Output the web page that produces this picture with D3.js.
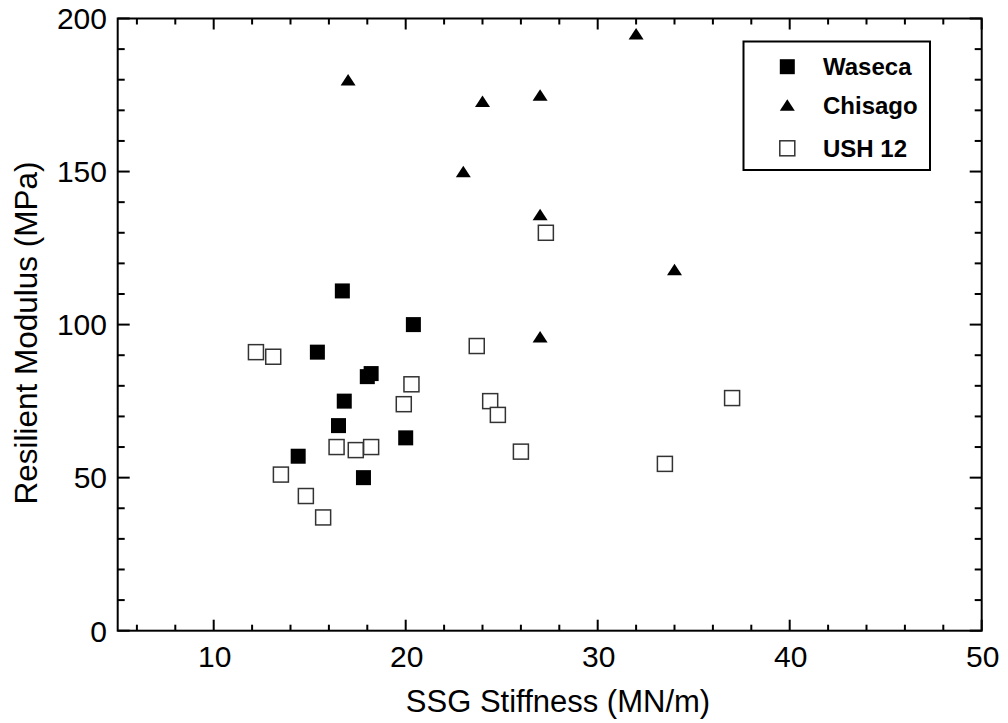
<!DOCTYPE html>
<html>
<head>
<meta charset="utf-8">
<script src="https://cdn.jsdelivr.net/npm/d3@7"></script>
<style>
  html, body { margin: 0; padding: 0; background: #fff; }
  svg { display: block; font-family: "Liberation Sans", Arial, sans-serif; }
</style>
</head>
<body>
<svg id="chart" width="1008" height="723"></svg>
<script>
// SSG stiffness (MN/m) vs resilient modulus (MPa) for three sites
const wasecaX = [16.7, 20.4, 15.4, 18.0, 18.2, 16.8, 16.5, 20.0, 14.4, 17.8];
const wasecaY = [111, 100, 91, 83, 84, 75, 67, 63, 57, 50];

const chisagoX = [17, 32, 24, 27, 23, 27, 34, 27];
const chisagoY = [180, 195, 173, 175, 150, 136, 118, 96];

const ushX = [12.2, 13.1, 20.3, 19.9, 16.4, 17.4, 18.2, 13.5, 14.8, 15.7, 27.3, 23.7, 24.4, 24.8, 26.0, 37.0, 33.5];
const ushY = [91, 89.5, 80.5, 74, 60, 59, 60, 51, 44, 37, 130, 93, 75, 70.5, 58.5, 76, 54.5];

const seriesNames = ["Waseca", "Chisago", "USH 12"];

const xTicks = [10, 20, 30, 40, 50];
const yTicks = [0, 50, 100, 150, 200];

(function draw() {
  const svg = d3.select("#chart");
  const pL = 117.7, pR = 981.7, pT = 18.5, pB = 630.7;

  const x = d3.scaleLinear().domain([5, 50]).range([pL, pR]);
  const y = d3.scaleLinear().domain([0, 200]).range([pB, pT]);

  const majorX = 11, minorX = 6, majorY = 12, minorY = 7;
  const xMinor = d3.range(6, 50, 2).filter(v => v % 10 !== 0);
  const yMinor = d3.range(10, 200, 10).filter(v => v % 50 !== 0);

  const axes = svg.append("g").attr("stroke", "#000").attr("stroke-width", 2);

  // frame
  axes.append("rect")
    .attr("x", pL).attr("y", pT)
    .attr("width", pR - pL).attr("height", pB - pT)
    .attr("fill", "none");

  // inward ticks on all four sides
  function xTick(v, len) {
    axes.append("line").attr("x1", x(v)).attr("x2", x(v)).attr("y1", pB).attr("y2", pB - len);
    axes.append("line").attr("x1", x(v)).attr("x2", x(v)).attr("y1", pT).attr("y2", pT + len);
  }
  function yTick(v, len) {
    axes.append("line").attr("y1", y(v)).attr("y2", y(v)).attr("x1", pL).attr("x2", pL + len);
    axes.append("line").attr("y1", y(v)).attr("y2", y(v)).attr("x1", pR).attr("x2", pR - len);
  }
  xTicks.forEach(v => xTick(v, majorX));
  xMinor.forEach(v => xTick(v, minorX));
  yTicks.forEach(v => yTick(v, majorY));
  yMinor.forEach(v => yTick(v, minorY));

  // tick labels
  svg.append("g").selectAll("text").data(xTicks).join("text")
    .attr("x", d => x(d) + 1).attr("y", 667)
    .attr("text-anchor", "middle")
    .attr("font-size", 30)
    .text(d => d);

  svg.append("g").selectAll("text").data(yTicks).join("text")
    .attr("x", 107).attr("y", d => y(d))
    .attr("dy", "0.36em")
    .attr("text-anchor", "end")
    .attr("font-size", 30)
    .text(d => d);

  // axis titles
  svg.append("text")
    .attr("x", 558).attr("y", 712)
    .attr("text-anchor", "middle")
    .attr("font-size", 31)
    .text("SSG Stiffness (MN/m)");

  svg.append("text")
    .attr("transform", "translate(36.5,333) rotate(-90)")
    .attr("text-anchor", "middle")
    .attr("font-size", 31.5)
    .text("Resilient Modulus (MPa)");

  // markers
  const S = 15;
  function square(g, cx, cy, filled) {
    g.append("rect")
      .attr("x", cx - S / 2).attr("y", cy - S / 2)
      .attr("width", S).attr("height", S)
      .attr("fill", filled ? "#000" : "#fff")
      .attr("stroke", filled ? "none" : "#333")
      .attr("stroke-width", 1.5);
  }
  function triangle(g, cx, cy) {
    const w = 15, h = 11.5;
    g.append("path")
      .attr("d", `M${cx - w / 2},${cy + h / 2}L${cx + w / 2},${cy + h / 2}L${cx},${cy - h / 2}Z`)
      .attr("fill", "#000");
  }

  const marks = svg.append("g");
  ushX.forEach((v, i) => square(marks, x(v), y(ushY[i]), false));
  wasecaX.forEach((v, i) => square(marks, x(v), y(wasecaY[i]), true));
  chisagoX.forEach((v, i) => triangle(marks, x(v), y(chisagoY[i])));

  // legend
  const lg = svg.append("g");
  lg.append("rect")
    .attr("x", 743.5).attr("y", 41.5)
    .attr("width", 186.5).attr("height", 128.5)
    .attr("fill", "#fff").attr("stroke", "#000").attr("stroke-width", 2);
  const rowY = [66.7, 105, 148.3];
  square(lg, 787.3, rowY[0], true);
  triangle(lg, 787.3, rowY[1]);
  square(lg, 787.3, rowY[2], false);
  lg.selectAll("text.lab").data(seriesNames).join("text")
    .attr("class", "lab")
    .attr("x", 823).attr("y", (d, i) => rowY[i])
    .attr("dy", "0.36em")
    .attr("font-size", 24)
    .attr("font-weight", "bold")
    .text(d => d);
})();
</script>
</body>
</html>
